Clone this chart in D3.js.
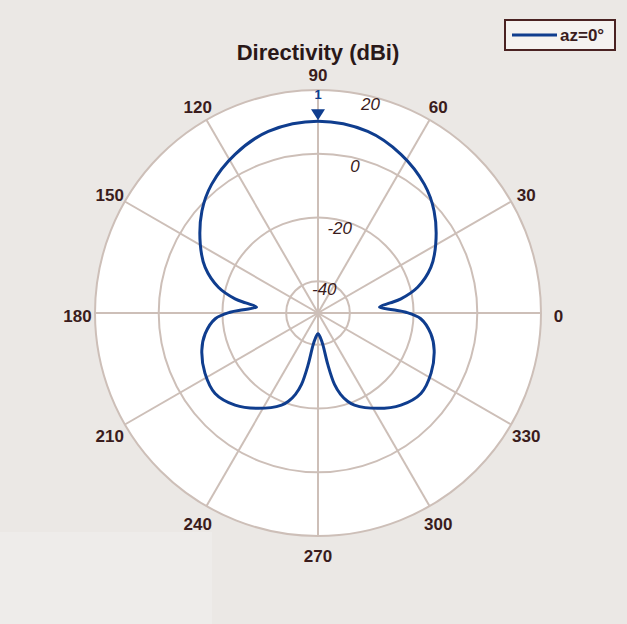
<!DOCTYPE html>
<html><head><meta charset="utf-8">
<script src="https://cdn.jsdelivr.net/npm/d3@7/dist/d3.min.js"></script>
<style>html,body{margin:0;padding:0;background:#ebe8e5;}svg{display:block;}</style>
</head><body>
<svg id="chart" width="627" height="624"></svg>
<script>
// Azimuth angles (deg, CCW from 0) and directivity (dBi)
const angleDeg = [0.5, 2.5, 5.5, 7.9, 9.7, 14.5, 22, 30.3, 41.3, 50.4, 62.4, 74.7, 90,
  105.3, 117.6, 129.6, 138.7, 149.7, 158, 165.5, 170.3, 172.1, 174.5, 177.5, 179.5,
  183.2, 190.4, 197.8, 208, 218, 228, 238, 248.4, 251.5, 254.5, 257, 259.2, 261.2, 264, 270,
  276, 278.8, 280.8, 283, 285.5, 288.5, 291.6, 302, 312, 322, 332, 342.2, 349.6, 356.8];
const directivity = [-22.4, -26.5, -30.6, -27.1, -23.6, -17.7, -11.8, -7.2, -1.5, 2.4, 6.2, 9.1, 10.2,
  9.1, 6.2, 2.4, -1.5, -7.2, -11.8, -17.7, -23.6, -27.1, -30.6, -26.5, -22.4,
  -17.7, -14, -11.7, -9.8, -9, -11.1, -14.7, -18.9, -20.8, -23.5, -27, -33.4, -39.8, -42, -43.5,
  -42, -39.8, -33.4, -27, -23.5, -20.8, -18.9, -14.7, -11.1, -9, -9.8, -11.7, -14, -17.7];
const angleTicks = [0, 30, 60, 90, 120, 150, 180, 210, 240, 270, 300, 330];
const magTicks = [-40, -20, 0, 20];
const magDomain = [-50, 20];
const peakAngle = 90, peakValue = 10.2, peakLabel = "1";
const titleText = "Directivity (dBi)";
const legendLabel = "az=0°";

const svg = d3.select("#chart");
const cx = 318, cy = 313, R = 223;
const gridColor = "#cdbfb8", textColor = "#3a1c1c", curveColor = "#0f3d8e";
const font = "Liberation Sans, Arial, sans-serif";

svg.append("rect").attr("x", 0).attr("y", 532).attr("width", 212).attr("height", 92).attr("fill", "#eeecea");

const r = d3.scaleLinear().domain(magDomain).range([0, R]);
const toRad = d => d * Math.PI / 180;
const g = svg.append("g").attr("transform", `translate(${cx},${cy})`);

g.append("circle").attr("r", R).attr("fill", "#ffffff");
// rings
g.selectAll("circle.ring").data(magTicks).join("circle").attr("class", "ring")
  .attr("r", d => r(d)).attr("fill", "none").attr("stroke", gridColor).attr("stroke-width", 2);
// spokes
g.selectAll("line.spoke").data(angleTicks).join("line").attr("class", "spoke")
  .attr("x1", 0).attr("y1", 0)
  .attr("x2", d => R * Math.cos(toRad(d))).attr("y2", d => -R * Math.sin(toRad(d)))
  .attr("stroke", gridColor).attr("stroke-width", 2);

// angle labels
g.selectAll("text.ang").data(angleTicks).join("text").attr("class", "ang")
  .attr("x", d => 240.5 * Math.cos(toRad(d))).attr("y", d => -240.5 * Math.sin(toRad(d)) + 3)
  .attr("text-anchor", "middle").attr("dominant-baseline", "central")
  .attr("font-family", font).attr("font-size", 17).attr("font-weight", "bold")
  .attr("fill", textColor).text(d => d);

// magnitude labels
g.selectAll("text.mag").data(magTicks).join("text").attr("class", "mag")
  .attr("x", d => (r(d) - 6) * Math.cos(toRad(76))).attr("y", d => -(r(d) - 6) * Math.sin(toRad(76)) + 2)
  .attr("text-anchor", "middle").attr("dominant-baseline", "central")
  .attr("font-family", font).attr("font-size", 17).attr("font-style", "italic")
  .attr("fill", textColor).text(d => d);

// pattern
const pts = angleDeg.map((a, i) => ({a, v: directivity[i]}));
const line = d3.lineRadial()
  .angle(d => Math.PI / 2 - toRad(d.a))
  .radius(d => r(d.v))
  .curve(d3.curveCatmullRomClosed.alpha(0.5));
g.append("path").attr("d", line(pts)).attr("fill", "none")
  .attr("stroke", curveColor).attr("stroke-width", 3).attr("stroke-linejoin", "round");

// peak marker
const pr = r(peakValue);
const px = pr * Math.cos(toRad(peakAngle)), py = -pr * Math.sin(toRad(peakAngle));
g.append("path").attr("d", `M${px},${py - 1} L${px - 7},${py - 12} L${px + 7},${py - 12} Z`).attr("fill", curveColor);
g.append("text").attr("x", px).attr("y", py - 27).attr("text-anchor", "middle").attr("dominant-baseline", "central")
  .attr("font-family", font).attr("font-size", 13).attr("font-weight", "bold")
  .attr("fill", curveColor).text(peakLabel);

// title
svg.append("text").attr("x", cx).attr("y", 52).attr("text-anchor", "middle").attr("dominant-baseline", "central")
  .attr("font-family", font).attr("font-size", 22).attr("font-weight", "bold")
  .attr("fill", "#2a1818").text(titleText);

// legend
const lg = svg.append("g");
lg.append("rect").attr("x", 505).attr("y", 20).attr("width", 110).attr("height", 30)
  .attr("fill", "#f4f2f0").attr("stroke", "#4a2222").attr("stroke-width", 2);
lg.append("line").attr("x1", 512).attr("x2", 557).attr("y1", 35).attr("y2", 35)
  .attr("stroke", curveColor).attr("stroke-width", 3);
lg.append("text").attr("x", 560).attr("y", 35).attr("dominant-baseline", "central")
  .attr("font-family", font).attr("font-size", 17).attr("font-weight", "bold")
  .attr("fill", textColor).text(legendLabel);
</script>
</body></html>
